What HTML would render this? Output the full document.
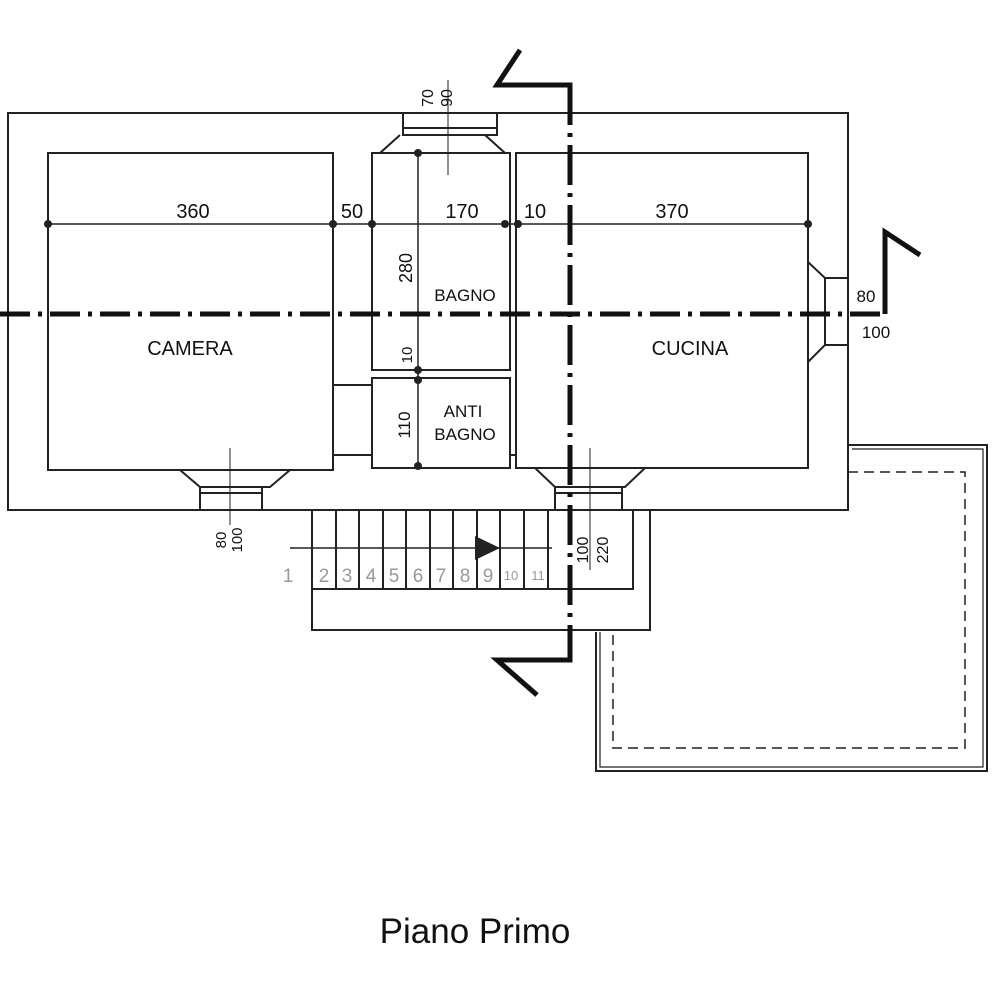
<!DOCTYPE html>
<html><head><meta charset="utf-8"><style>body{margin:0;background:#fff}svg{display:block}</style></head><body>
<svg width="1000" height="1000" viewBox="0 0 1000 1000" xmlns="http://www.w3.org/2000/svg" font-family="Liberation Sans, sans-serif">
<g fill="none" stroke="#222" stroke-width="2">
<rect x="8" y="113" width="840" height="397"/>
<rect x="48" y="153" width="285" height="317"/>
<rect x="372" y="153" width="138" height="217"/>
<rect x="372" y="378" width="138" height="90"/>
<rect x="516" y="153" width="292" height="315"/>
<line x1="333" y1="385" x2="372" y2="385"/><line x1="333" y1="455" x2="372" y2="455"/>
<line x1="510" y1="455" x2="516" y2="455"/>
<path d="M403 113V135H497V113M403 128H497M380 153L400 135M505 153L485 135"/>
<path d="M180 470L200 487H270L290 470M200 487V510M262 487V510M200 493H262"/>
<path d="M535 468L555 487H625L645 468M555 487V510M622 487V510M555 493H622"/>
<path d="M808 262L825 278V345L808 362M825 278H848M825 345H848"/>
<rect x="312" y="510" width="338" height="120"/>
<path d="M312 589H633V510"/>
<path d="M336 510V589M359 510V589M383 510V589M406 510V589M430 510V589M453 510V589M477 510V589M500 510V589M524 510V589M548 510V589"/>
<line x1="290" y1="548" x2="552" y2="548" stroke-width="1.5"/>
<path d="M848 445H987V771H596V632"/>
<path d="M852 449H983V767H600V632" stroke-width="1.2"/>
<path d="M848 472H965V748H613V632" stroke-dasharray="10 6" stroke-width="1.5"/>
<line x1="48" y1="224" x2="808" y2="224" stroke-width="1.5"/>
<line x1="418" y1="153" x2="418" y2="468" stroke-width="1.5"/>
<line x1="448" y1="80" x2="448" y2="175" stroke-width="1"/>
<line x1="230" y1="448" x2="230" y2="525" stroke-width="1"/>
<line x1="590" y1="448" x2="590" y2="570" stroke-width="1"/>
</g>
<g fill="#222">
<circle cx="48" cy="224" r="4"/><circle cx="333" cy="224" r="4"/><circle cx="372" cy="224" r="4"/><circle cx="505" cy="224" r="4"/><circle cx="518" cy="224" r="4"/><circle cx="808" cy="224" r="4"/>
<circle cx="418" cy="153" r="4"/><circle cx="418" cy="370" r="4"/><circle cx="418" cy="380" r="4"/><circle cx="418" cy="466" r="4"/>
<path d="M475 536L500 548L475 560Z"/>
</g>
<g fill="none" stroke="#111" stroke-width="5">
<line x1="0" y1="314" x2="885" y2="314" stroke-dasharray="30 8 4 8"/>
<path d="M885 314V232L920 255"/>
<line x1="570" y1="85" x2="570" y2="660" stroke-dasharray="40 8 4 8"/>
<path d="M520 50L497 85H570V100M570 645V660H497L537 695"/>
</g>
<g font-size="20" fill="#111" text-anchor="middle">
<text x="193" y="218">360</text><text x="352" y="218">50</text><text x="462" y="218">170</text><text x="535" y="218">10</text><text x="672" y="218">370</text>
<text x="190" y="355">CAMERA</text><text x="690" y="355">CUCINA</text>
<text x="465" y="301" font-size="17">BAGNO</text>
<text x="463" y="417" font-size="17">ANTI</text><text x="465" y="440" font-size="17">BAGNO</text>
<text x="866" y="302" font-size="17">80</text><text x="876" y="338" font-size="17">100</text>
<text transform="translate(412,268) rotate(-90)" font-size="18">280</text>
<text transform="translate(412,355) rotate(-90)" font-size="15">10</text>
<text transform="translate(410,425) rotate(-90)" font-size="17">110</text>
<text transform="translate(433,98) rotate(-90)" font-size="16">70</text>
<text transform="translate(452,98) rotate(-90)" font-size="16">90</text>
<text transform="translate(226,540) rotate(-90)" font-size="15">80</text>
<text transform="translate(242,540) rotate(-90)" font-size="15">100</text>
<text transform="translate(588,550) rotate(-90)" font-size="16">100</text>
<text transform="translate(608,550) rotate(-90)" font-size="16">220</text>
<text x="475" y="943" font-size="35">Piano Primo</text>
</g>
<g font-size="19" fill="#999" text-anchor="middle">
<text x="288" y="582">1</text><text x="324" y="582">2</text><text x="347" y="582">3</text><text x="371" y="582">4</text><text x="394" y="582">5</text><text x="418" y="582">6</text><text x="441" y="582">7</text><text x="465" y="582">8</text><text x="488" y="582">9</text><text x="511" y="580" font-size="13">10</text><text x="538" y="580" font-size="13">11</text>
</g>
</svg>
</body></html>
